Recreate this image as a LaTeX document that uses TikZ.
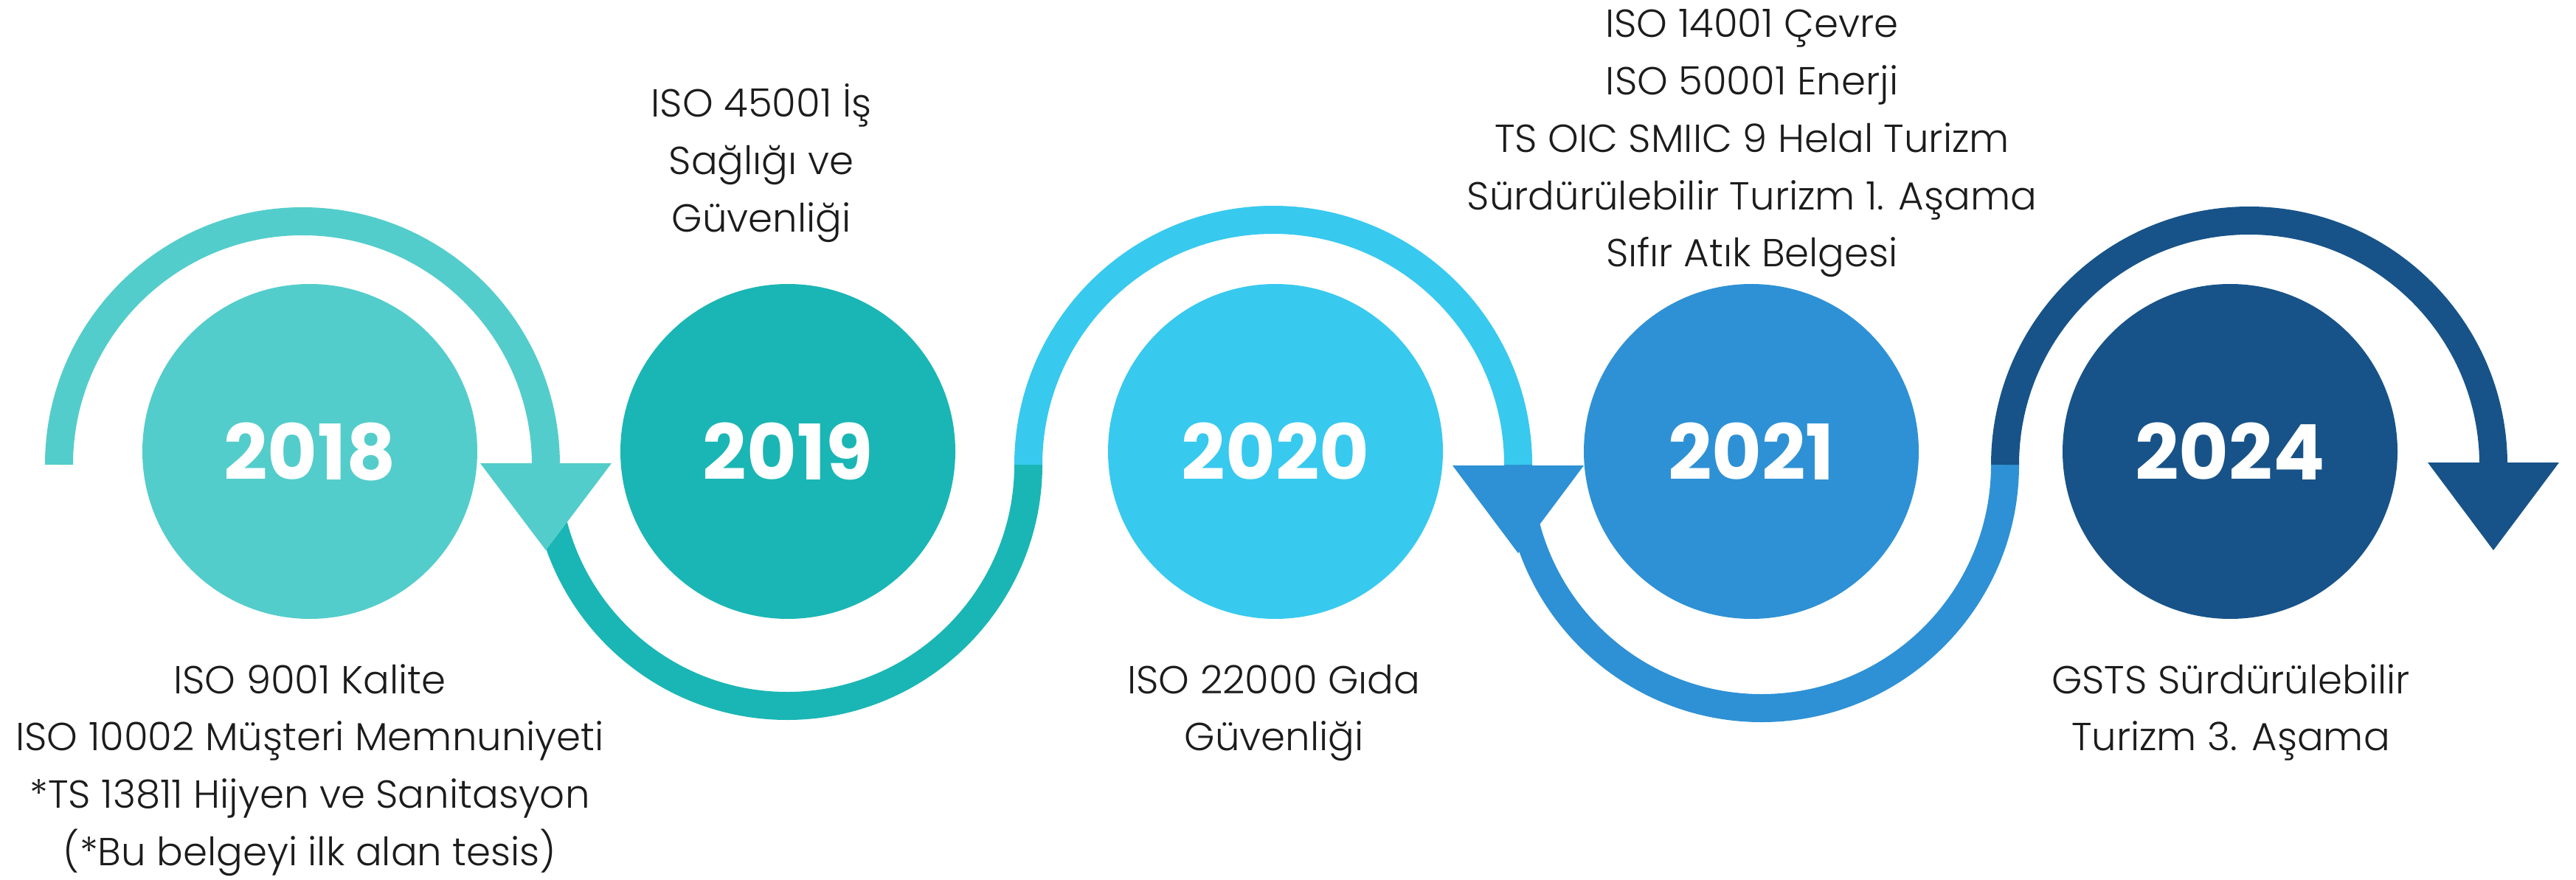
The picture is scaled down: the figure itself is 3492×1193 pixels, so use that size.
\documentclass[tikz,border=0pt]{standalone}
\usepackage{fontspec}
\newfontfamily\labelfont{Poppins Light}
\newfontfamily\yearfont{Poppins}
\definecolor{cA}{HTML}{53CDCB}
\definecolor{cB}{HTML}{1AB6B5}
\definecolor{cC}{HTML}{38C9EF}
\definecolor{cD}{HTML}{2E91D5}
\definecolor{cE}{HTML}{175389}
\definecolor{txt}{HTML}{1C1C1C}
\tikzset{
  band/.style={line width=38pt},
  yearcircle/.style={circle, minimum size=454pt, inner sep=0pt, text=white,
    font=\yearfont\bfseries\fontsize{104}{104}\selectfont},
  lbl/.style={anchor=base, text=txt, inner sep=0pt,
    font=\labelfont\fontsize{53}{60}\selectfont},
}
\begin{document}
\begin{tikzpicture}[x=1pt,y=-1pt]
\useasboundingbox (0,0) rectangle (3492,1193);
\fill[white] (0,0) rectangle (3492,1193);

% arc end points
\coordinate (p0) at (80,630);
\coordinate (p1) at (740,630);
\coordinate (p2) at (1394,630);
\coordinate (p3) at (2058,630);
\coordinate (p4) at (2718,630);
\coordinate (p5) at (3380,630);

% lower arcs
\draw[band, cB] (p1) arc[start angle=180, end angle=0, radius=327];
\draw[band, cD] (p3) arc[start angle=180, end angle=0, radius=330];
% upper arcs
\draw[band, cA] (p0) arc[start angle=180, end angle=360, radius=330];
\draw[band, cC] (p2) arc[start angle=180, end angle=360, radius=332];
\draw[band, cE] (p4) arc[start angle=180, end angle=360, radius=331];

% arrowheads
\fill[cA] ([xshift=-89pt,yshift=2pt]p1) -- ([xshift=89pt,yshift=2pt]p1) -- ([yshift=-116pt]p1) -- cycle;
\fill[cD] ([xshift=-89pt,yshift=-1pt]p3) -- ([xshift=89pt,yshift=-1pt]p3) -- ([yshift=-120pt]p3) -- cycle;
\fill[cE] ([xshift=-89pt,yshift=3pt]p5) -- ([xshift=89pt,yshift=3pt]p5) -- ([yshift=-116pt]p5) -- cycle;

% year circles
\node[yearcircle, fill=cA] (y2018) at (420,612) {2018};
\node[yearcircle, fill=cB] (y2019) at (1068,612) {2019};
\node[yearcircle, fill=cC] (y2020) at (1729,612) {2020};
\node[yearcircle, fill=cD] (y2021) at (2374,612) {2021};
\node[yearcircle, fill=cE] (y2024) at (3023,612) {2024};

% labels 2018
\node[lbl] (t18a) at (420,940) {ISO 9001 Kalite};
\node[lbl] (t18b) at (420,1017.7) {ISO 10002 Müşteri Memnuniyeti};
\node[lbl] (t18c) at (420,1095.3) {*TS 13811 Hijyen ve Sanitasyon};
\node[lbl] (t18d) at (420,1173) {(*Bu belgeyi ilk alan tesis)};
% labels 2019
\node[lbl] (t19a) at (1032,159) {ISO 45001 İş};
\node[lbl] (t19b) at (1032,236.5) {Sağlığı ve};
\node[lbl] (t19c) at (1032,314) {Güvenliği};
% labels 2020
\node[lbl] (t20a) at (1727,940) {ISO 22000 Gıda};
\node[lbl] (t20b) at (1727,1017.7) {Güvenliği};
% labels 2021
\node[lbl] (t21a) at (2375,51) {ISO 14001 Çevre};
\node[lbl] (t21b) at (2375,128.7) {ISO 50001 Enerji};
\node[lbl] (t21c) at (2375,206.4) {TS OIC SMIIC 9 Helal Turizm};
\node[lbl] (t21d) at (2375,284) {Sürdürülebilir Turizm 1. Aşama};
\node[lbl] (t21e) at (2375,361.8) {Sıfır Atık Belgesi};
% labels 2024
\node[lbl] (t24a) at (3024,940) {GSTS Sürdürülebilir};
\node[lbl] (t24b) at (3024,1017.7) {Turizm 3. Aşama};
\end{tikzpicture}
\end{document}
